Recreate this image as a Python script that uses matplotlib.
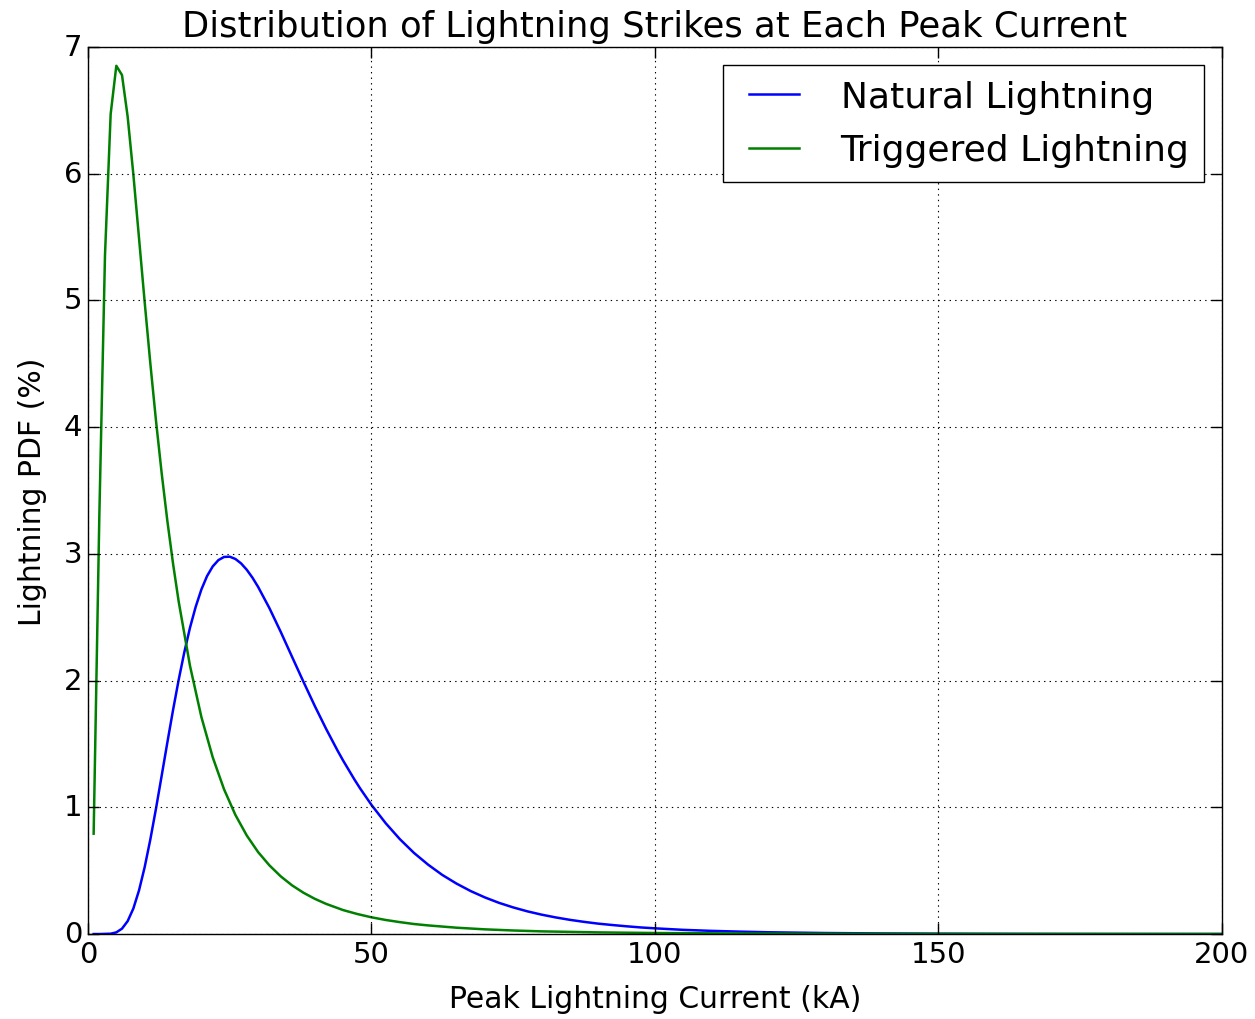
import matplotlib
matplotlib.use("Agg")
import matplotlib.pyplot as plt

# peak current (kA) and PDF (%)
natural_x = [1, 2, 4, 5, 6, 7, 8, 9, 10, 11, 12, 13, 14, 15, 16, 17, 18, 19, 20,
             21, 22, 23, 24, 25, 26, 27, 28, 29, 30, 32, 34, 36, 38, 40, 42, 44,
             45, 47, 48, 50, 52.5, 55, 57.5, 60, 62.5, 65, 67.5, 70, 72.5, 75,
             77.5, 80, 82.5, 85, 87.5, 90, 92.5, 95, 97.5, 100, 105, 110, 115,
             120, 130, 140, 150, 160, 170, 180, 190, 200]
natural_y = [0.0, 0.0, 0.0026, 0.0132, 0.0425, 0.102, 0.201, 0.344, 0.528, 0.747,
             0.991, 1.250, 1.512, 1.767, 2.007, 2.226, 2.419, 2.583, 2.719,
             2.825, 2.901, 2.951, 2.976, 2.978, 2.960, 2.925, 2.875, 2.813,
             2.740, 2.572, 2.384, 2.187, 1.991, 1.800, 1.619, 1.449,
             1.369, 1.219, 1.149, 1.019, 0.875, 0.749, 0.640, 0.547, 0.466,
             0.398, 0.339, 0.289, 0.246, 0.210, 0.179, 0.153, 0.131, 0.112,
             0.096, 0.082, 0.071, 0.061, 0.052, 0.045, 0.033, 0.025, 0.019,
             0.014, 0.008, 0.0047, 0.0028, 0.0017, 0.0010, 0.0006, 0.0004, 0.0003]

triggered_x = [1, 2, 3, 4, 5, 6, 7, 8, 9, 10, 11, 12, 13, 14, 15, 16, 18, 20,
               22, 24, 26, 28, 30, 32, 34, 36, 38, 40, 42, 45, 47.5, 50, 52.5,
               55, 57.5, 60, 65, 70, 75, 80, 90, 100, 120, 140, 160, 180, 200]
triggered_y = [0.792, 3.294, 5.356, 6.471, 6.852, 6.779, 6.450, 5.996, 5.493,
               4.987, 4.502, 4.049, 3.636, 3.260, 2.924, 2.623, 2.115, 1.713,
               1.395, 1.142, 0.940, 0.778, 0.647, 0.542, 0.455, 0.384, 0.326,
               0.278, 0.238, 0.189, 0.158, 0.132, 0.111,
               0.094, 0.079, 0.068, 0.050, 0.037, 0.028, 0.021, 0.013, 0.008,
               0.0033, 0.0015, 0.0008, 0.0004, 0.0002]

plt.style.use('classic')
plt.rcParams['font.family'] = ['DejaVu Sans']

fig = plt.figure(figsize=(12.55, 10.2), dpi=100, facecolor='white')
ax = fig.add_axes([0.0701, 0.0833, 0.9036, 0.8696])

ax.plot(natural_x, natural_y, 'b-', lw=1.8, label='Natural Lightning')
ax.plot(triggered_x, triggered_y, 'g-', lw=1.8, label='Triggered Lightning')

ax.set_xlim(0, 200)
ax.set_ylim(0, 7)
ax.grid(True, linestyle=':', color='k', lw=0.8)
ax.tick_params(labelsize=21, length=8, width=1)
ax.set_title('Distribution of Lightning Strikes at Each Peak Current',
             fontsize=25.5, pad=8)
ax.set_xlabel('Peak Lightning Current (kA)', fontsize=21.5, labelpad=12)
ax.set_ylabel('Lightning PDF (%)', fontsize=21.5, labelpad=12)
ax.legend(loc='upper right', fontsize=26, frameon=True, labelspacing=0.55,
          handletextpad=0.85, borderaxespad=0.5)

fig.savefig('out.png', dpi=100, facecolor='white')
